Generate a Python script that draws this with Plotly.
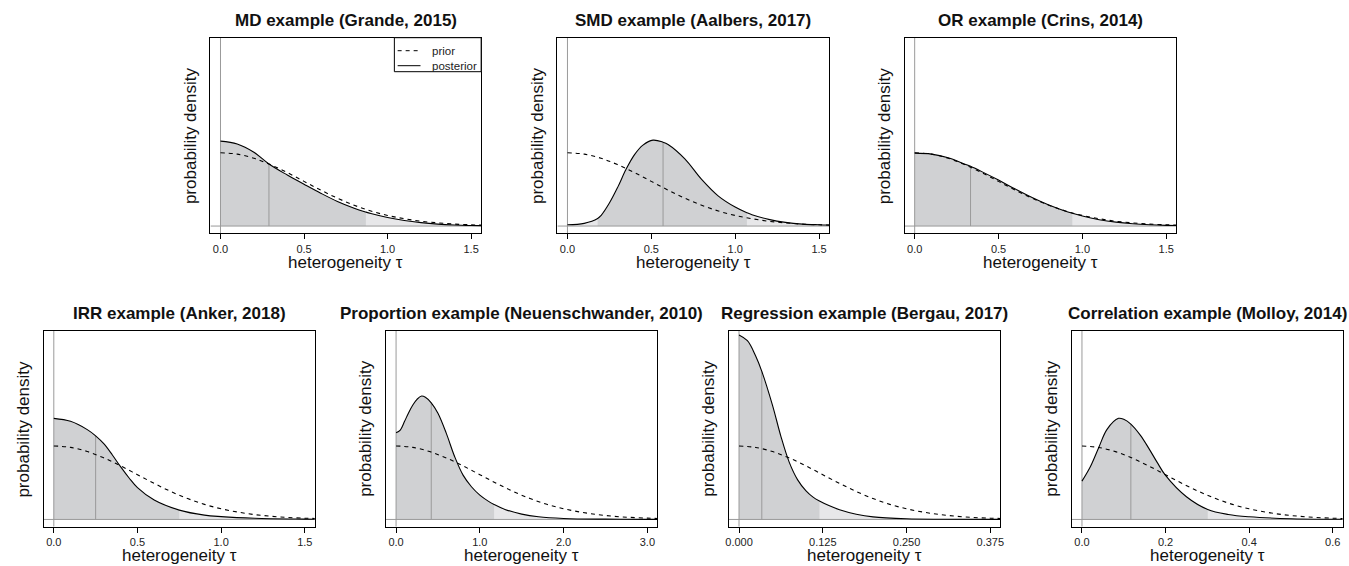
import plotly.graph_objects as go

FONT = "Liberation Sans, Arial, Helvetica, sans-serif"
W, H = 1349, 566

titles = ["MD example (Grande, 2015)", "SMD example (Aalbers, 2017)", "OR example (Crins, 2014)",
          "IRR example (Anker, 2018)", "Proportion example (Neuenschwander, 2010)",
          "Regression example (Bergau, 2017)", "Correlation example (Molloy, 2014)"]

# ---- prior densities (half-normal shaped) ----
prior_x_a = [0.0, 0.1, 0.2, 0.3, 0.4, 0.5, 0.6, 0.7, 0.8, 0.9, 1.0, 1.1, 1.2, 1.3, 1.4, 1.5, 1.56]
prior_y_a = [1.596, 1.564, 1.475, 1.334, 1.162, 0.972, 0.782, 0.606, 0.453, 0.327, 0.231, 0.160,
             0.105, 0.069, 0.043, 0.027, 0.021]
prior_x_prop = [0.0, 0.2, 0.4, 0.6, 0.8, 1.0, 1.2, 1.4, 1.6, 1.8, 2.0, 2.2, 2.4, 2.6, 2.8, 3.0, 3.12]
prior_y_prop = [0.798, 0.782, 0.737, 0.667, 0.581, 0.486, 0.391, 0.303, 0.227, 0.164, 0.116, 0.080,
                0.053, 0.034, 0.022, 0.014, 0.010]
prior_x_reg = [0.0, 0.025, 0.05, 0.075, 0.1, 0.125, 0.15, 0.175, 0.2, 0.225, 0.25, 0.275, 0.3,
               0.325, 0.35, 0.375, 0.39]
prior_y_reg = [6.383, 6.255, 5.898, 5.336, 4.647, 3.887, 3.128, 2.426, 1.813, 1.309, 0.926, 0.638,
               0.421, 0.274, 0.172, 0.109, 0.083]
prior_x_cor = [0.0, 0.04, 0.08, 0.12, 0.16, 0.2, 0.24, 0.28, 0.32, 0.36, 0.4, 0.44, 0.48, 0.52,
               0.56, 0.6, 0.624]
prior_y_cor = [3.989, 3.909, 3.686, 3.335, 2.904, 2.429, 1.955, 1.516, 1.133, 0.818, 0.578, 0.399,
               0.263, 0.172, 0.108, 0.068, 0.052]

# ---- posterior densities ----
post_x_md = [0.0, 0.1, 0.2, 0.29, 0.4, 0.5, 0.6, 0.7, 0.8, 0.87, 0.9, 1.0, 1.1, 1.2, 1.3, 1.4, 1.5, 1.56]
post_y_md = [1.847, 1.785, 1.605, 1.350, 1.110, 0.910, 0.715, 0.535, 0.388, 0.304, 0.272, 0.185,
             0.120, 0.074, 0.043, 0.024, 0.013, 0.009]
post_x_smd = [0.0, 0.1, 0.18, 0.2, 0.25, 0.3, 0.35, 0.4, 0.45, 0.51, 0.57, 0.6, 0.7, 0.8, 0.9, 1.0,
              1.07, 1.1, 1.2, 1.3, 1.4, 1.5, 1.56]
post_y_smd = [0.028, 0.059, 0.163, 0.228, 0.500, 0.847, 1.239, 1.554, 1.760, 1.869, 1.825, 1.775,
              1.462, 1.015, 0.652, 0.413, 0.289, 0.246, 0.146, 0.080, 0.043, 0.028, 0.022]
post_x_or = [0.0, 0.1, 0.2, 0.3, 0.333, 0.4, 0.5, 0.6, 0.7, 0.8, 0.9, 0.94, 1.0, 1.1, 1.2, 1.3, 1.4,
             1.5, 1.56]
post_y_or = [1.586, 1.565, 1.484, 1.347, 1.299, 1.184, 1.000, 0.804, 0.619, 0.456, 0.322, 0.278,
             0.217, 0.139, 0.085, 0.050, 0.028, 0.015, 0.011]
post_x_irr = [0.0, 0.1, 0.2, 0.25, 0.3, 0.35, 0.4, 0.45, 0.5, 0.6, 0.75, 0.9, 1.0, 1.2, 1.5, 1.56]
post_y_irr = [2.195, 2.130, 1.950, 1.815, 1.640, 1.400, 1.140, 0.900, 0.690, 0.420, 0.202, 0.093,
              0.061, 0.026, 0.007, 0.004]
post_x_prop = [0.0, 0.05, 0.1, 0.15, 0.2, 0.25, 0.305, 0.35, 0.42, 0.5, 0.6, 0.7, 0.8, 0.9, 1.0,
               1.1, 1.17, 1.3, 1.5, 1.7, 2.0, 2.5, 3.0, 3.12]
post_y_prop = [0.942, 0.970, 1.062, 1.159, 1.242, 1.304, 1.340, 1.326, 1.266, 1.152, 0.934, 0.681,
               0.481, 0.355, 0.264, 0.199, 0.163, 0.109, 0.058, 0.029, 0.011, 0.003, 0.001, 0.001]
post_x_reg = [0.0, 0.0125, 0.025, 0.034, 0.05, 0.0625, 0.075, 0.0875, 0.1, 0.11, 0.12, 0.135, 0.15,
              0.175, 0.2, 0.25, 0.3, 0.39]
post_y_reg = [16.03, 15.53, 14.18, 12.87, 9.92, 7.22, 4.96, 3.44, 2.48, 1.96, 1.60, 1.18, 0.84,
              0.45, 0.22, 0.06, 0.017, 0.004]
post_x_cor = [0.0, 0.02, 0.04, 0.06, 0.0875, 0.1, 0.117, 0.14, 0.16, 0.18, 0.2, 0.25, 0.301, 0.35,
              0.4, 0.5, 0.6, 0.624]
post_y_cor = [2.083, 2.866, 3.900, 4.895, 5.493, 5.439, 5.183, 4.569, 3.862, 3.100, 2.393, 1.235,
              0.544, 0.272, 0.147, 0.038, 0.011, 0.008]

# posterior summaries: median and 95% interval bounds
medians = [0.29, 0.57, 0.333, 0.25, 0.42, 0.034, 0.117]
ci_lower = [0.0, 0.18, 0.0, 0.0, 0.0, 0.0, 0.0]
ci_upper = [0.87, 1.07, 0.94, 0.75, 1.17, 0.12, 0.301]

xlims = [[0, 1.5], [0, 1.5], [0, 1.5], [0, 1.5], [0, 3.0], [0, 0.375], [0, 0.6]]
ylim_max = [3.94, 3.94, 3.94, 3.94, 1.97, 15.77, 9.86]
tick_vals = [[0, 0.5, 1.0, 1.5]] * 4 + [[0, 1, 2, 3], [0, 0.125, 0.25, 0.375], [0, 0.2, 0.4, 0.6]]
tick_text = [["0.0", "0.5", "1.0", "1.5"]] * 4 + [["0.0", "1.0", "2.0", "3.0"],
             ["0.000", "0.125", "0.250", "0.375"], ["0.0", "0.2", "0.4", "0.6"]]

priors = [(prior_x_a, prior_y_a)] * 4 + [(prior_x_prop, prior_y_prop), (prior_x_reg, prior_y_reg),
                                         (prior_x_cor, prior_y_cor)]
posts = [(post_x_md, post_y_md), (post_x_smd, post_y_smd), (post_x_or, post_y_or),
         (post_x_irr, post_y_irr), (post_x_prop, post_y_prop), (post_x_reg, post_y_reg),
         (post_x_cor, post_y_cor)]

# panel boxes in pixels (left, right, top, bottom)
boxes = [(207.7, 480.0, 37.7, 233.3), (556.7, 830.0, 37.7, 233.3), (906.0, 1179.3, 37.7, 233.3),
         (40.0, 312.7, 330.7, 526.7), (384.3, 657.3, 330.7, 526.7), (729.3, 1002.3, 330.7, 526.7),
         (1074.3, 1346.7, 330.7, 526.7)]

DARK = "#d0d1d3"
LIGHT = "#e7e7e9"
GREY = "#9a9a9a"
DASH = "4px,4px"

fig = go.Figure()
annotations = []
shapes = []
layout = {}

for i in range(7):
    n = "" if i == 0 else str(i + 1)
    xa, ya = "x" + n, "y" + n
    px_, py_ = priors[i]
    qx, qy = posts[i]
    lo, hi = xlims[i]
    ext = 0.04 * (hi - lo)
    xr = [lo - ext, hi + ext]
    ymax = ylim_max[i]
    yr = [-0.04 * ymax, 1.04 * ymax]

    # light shading under the whole posterior
    fig.add_trace(go.Scatter(x=qx, y=qy, xaxis=xa, yaxis=ya, mode="lines", fill="tozeroy",
                             fillcolor=LIGHT, line=dict(width=0, shape="spline"),
                             hoverinfo="skip", showlegend=False))
    # dark shading: 95% interval
    sx = [x for x in qx if ci_lower[i] - 1e-9 <= x <= ci_upper[i] + 1e-9]
    sy = [y for x, y in zip(qx, qy) if ci_lower[i] - 1e-9 <= x <= ci_upper[i] + 1e-9]
    fig.add_trace(go.Scatter(x=sx, y=sy, xaxis=xa, yaxis=ya, mode="lines", fill="tozeroy",
                             fillcolor=DARK, line=dict(width=0, shape="spline"),
                             hoverinfo="skip", showlegend=False))
    # reference lines at tau = 0 and density = 0
    fig.add_trace(go.Scatter(x=[0, 0], y=yr, xaxis=xa, yaxis=ya, mode="lines",
                             line=dict(color=GREY, width=1), hoverinfo="skip", showlegend=False))
    fig.add_trace(go.Scatter(x=xr, y=[0, 0], xaxis=xa, yaxis=ya, mode="lines",
                             line=dict(color=GREY, width=1), hoverinfo="skip", showlegend=False))
    # median line
    m = medians[i]
    my = qy[qx.index(m)]
    fig.add_trace(go.Scatter(x=[m, m], y=[0, my], xaxis=xa, yaxis=ya, mode="lines",
                             line=dict(color=GREY, width=1), hoverinfo="skip", showlegend=False))
    # prior and posterior
    fig.add_trace(go.Scatter(x=px_, y=py_, xaxis=xa, yaxis=ya, mode="lines",
                             line=dict(color="black", width=1.1, dash=DASH, shape="spline"),
                             name="prior", showlegend=False))
    fig.add_trace(go.Scatter(x=qx, y=qy, xaxis=xa, yaxis=ya, mode="lines",
                             line=dict(color="black", width=1.1, shape="spline"),
                             name="posterior", showlegend=False))

    L, R, T, B = boxes[i]
    layout["xaxis" + n] = dict(domain=[L / W, R / W], anchor=ya, range=xr, showgrid=False,
                               zeroline=False, showline=True, mirror=True, linecolor="black",
                               linewidth=1, ticks="outside", ticklen=5, tickcolor="black",
                               tickvals=tick_vals[i], ticktext=tick_text[i], ticklabelstandoff=0,
                               tickfont=dict(family=FONT, size=11, color="#222"))
    layout["yaxis" + n] = dict(domain=[1 - B / H, 1 - T / H], anchor=xa, range=yr, showgrid=False,
                               zeroline=False, showline=True, mirror=True, linecolor="black",
                               linewidth=1, ticks="", showticklabels=False)
    cx = (L + R) / 2
    annotations.append(dict(text="<b>" + titles[i] + "</b>", x=cx / W, y=1 - (T - 17) / H,
                            xref="paper", yref="paper", xanchor="center", yanchor="middle",
                            showarrow=False, font=dict(family=FONT, size=17, color="#111")))
    annotations.append(dict(text="heterogeneity τ", x=cx / W, y=1 - (B + 29) / H,
                            xref="paper", yref="paper", xanchor="center", yanchor="middle",
                            showarrow=False, font=dict(family=FONT, size=17, color="#111")))
    annotations.append(dict(text="probability density", x=(L - 20) / W, y=1 - ((T + B) / 2) / H,
                            xref="paper", yref="paper", xanchor="center", yanchor="middle",
                            textangle=-90, showarrow=False,
                            font=dict(family=FONT, size=17, color="#111")))

# legend in first panel
lg_l, lg_r, lg_t, lg_b = 392.7, 480.0, 37.7, 71.7
shapes.append(dict(type="rect", xref="paper", yref="paper", x0=lg_l / W, x1=lg_r / W,
                   y0=1 - lg_b / H, y1=1 - lg_t / H, line=dict(color="black", width=1),
                   fillcolor="white", layer="above"))
for k, (lab, dash) in enumerate([("prior", DASH), ("posterior", "solid")]):
    yy = 1 - (50.7 + 15 * k) / H
    shapes.append(dict(type="line", xref="paper", yref="paper", x0=396 / W, x1=419 / W,
                       y0=yy, y1=yy, line=dict(color="black", width=1, dash=dash), layer="above"))
    annotations.append(dict(text=lab, x=429 / W, y=yy, xref="paper", yref="paper",
                            xanchor="left", yanchor="middle", showarrow=False,
                            font=dict(family=FONT, size=11.5, color="#222")))

fig.update_layout(width=W, height=H, margin=dict(l=0, r=0, t=0, b=0),
                  paper_bgcolor="white", plot_bgcolor="white",
                  annotations=annotations, shapes=shapes, **layout)
fig.write_html("out.html", config={"displayModeBar": False},
               post_script="document.body.style.margin='0px';document.body.style.overflow='hidden';")
